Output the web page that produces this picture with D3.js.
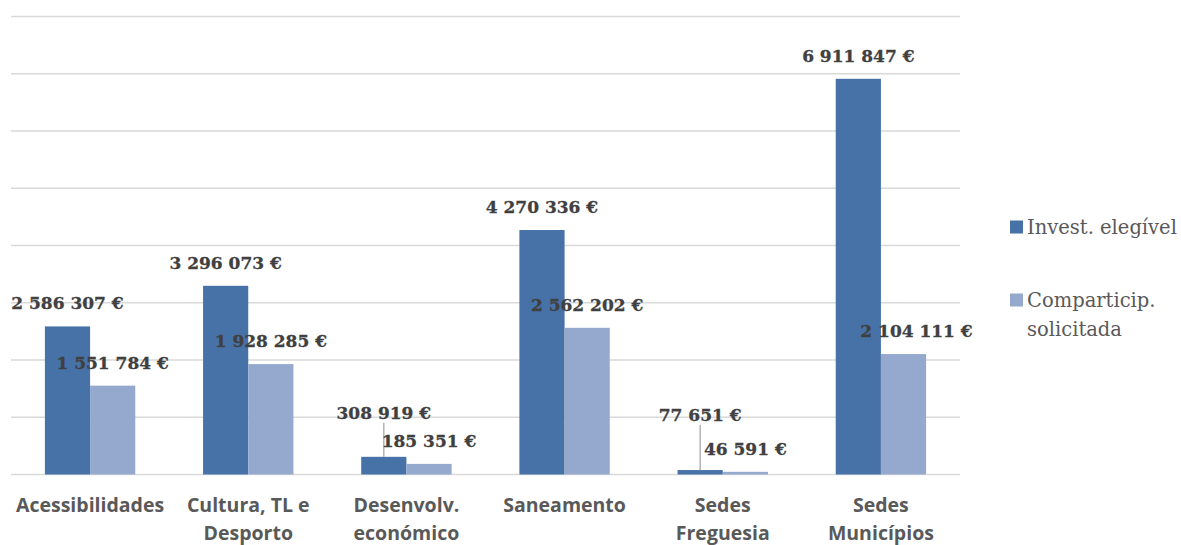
<!DOCTYPE html>
<html>
<head>
<meta charset="utf-8">
<script src="https://cdn.jsdelivr.net/npm/d3@7"></script>
<style>
body { margin: 0; background: #fff; }
</style>
</head>
<body>
<script>
// categorias e valores
var categories = [["Acessibilidades"], ["Cultura, TL e", "Desporto"], ["Desenvolv.", "económico"], ["Saneamento"], ["Sedes", "Freguesia"], ["Sedes", "Municípios"]]
var invest = [2586307, 3296073, 308919, 4270336, 77651, 6911847]
var compart = [1551784, 1928285, 185351, 2562202, 46591, 2104111]
var series_names = [["Invest. elegível"], ["Comparticip.", "solicitada"]]
var y_ticks = [0, 1000000, 2000000, 3000000, 4000000, 5000000, 6000000, 7000000, 8000000]

var w = 1181, h = 545
var margin = {left: 11, right: 221, top: 16.5, bottom: 70.5}
var colors = ["#4672a8", "#95a9cf"]

var svg = d3.select("body").append("svg")
.attr("width", w)
.attr("height", h)

// gap width 150% -> 2 barras + 1.5 barra de intervalo por categoria
var cat_w = (w - margin.right - margin.left) / categories.length
var bar_w = cat_w / 3.5

var y = d3.scaleLinear()
.domain([0, 8000000])
.range([h - margin.bottom, margin.top])

// grelha
svg.append("g")
.selectAll("line")
.data(y_ticks)
.enter().append("line")
.attr("x1", margin.left)
.attr("x2", w - margin.right)
.attr("y1", function(d) { return y(d) })
.attr("y2", function(d) { return y(d) })
.attr("stroke", "#d9d9d9")
.attr("stroke-width", 1.5)

var series = [invest, compart]
function bar_x(i, s) { return margin.left + i*cat_w + cat_w/2 - bar_w + s*bar_w }

series.forEach(function(vals, s) {
svg.append("g")
.selectAll("rect")
.data(vals)
.enter().append("rect")
.attr("x", function(d, i) { return bar_x(i, s) })
.attr("width", bar_w)
.attr("y", function(d) { return y(d) })
.attr("height", function(d) { return y(0) - y(d) })
.attr("fill", colors[s])
})

// deslocações manuais das etiquetas (como no Excel)
var label_shift = [
[[0,0],[0,0],[0,-21],[0,0],[0,-32],[0,0]],
[[0,0],[0,0],[0,0],[0,0],[0,0],[13,0]]
]

series.forEach(function(vals, s) {
vals.forEach(function(d, i) {
var cx = bar_x(i, s) + bar_w/2 + label_shift[s][i][0]
var cy = y(d) - 23 + label_shift[s][i][1]
if (label_shift[s][i][1] < -10) {
svg.append("line")
.attr("x1", cx).attr("x2", cx)
.attr("y1", cy + 10).attr("y2", y(d))
.attr("stroke", "#a6a6a6")
.attr("stroke-width", 1.3)
}
svg.append("text")
.attr("x", cx)
.attr("y", cy)
.attr("text-anchor", "middle")
.attr("dominant-baseline", "central")
.style("font-family", "DejaVu Serif")
.style("font-weight", "bold")
.style("font-size", "17px")
.style("fill", "#404040")
.style("stroke", "#404040")
.style("stroke-width", 0.3)
.text(d3.format(",")(d).replace(/,/g, " ") + " €")
})
})

// eixo das categorias
categories.forEach(function(lines, i) {
var t = svg.append("text")
.attr("x", margin.left + i*cat_w + cat_w/2)
.attr("y", 504)
.attr("text-anchor", "middle")
.attr("dominant-baseline", "central")
.style("font-family", "Open Sans")
.style("font-weight", "bold")
.style("font-size", "19.5px")
.style("fill", "#595959")
lines.forEach(function(l, k) {
t.append("tspan").attr("x", margin.left + i*cat_w + cat_w/2).attr("dy", k == 0 ? 0 : 28).text(l)
})
})

// legenda
var leg_y = [227, 300]
series_names.forEach(function(lines, s) {
svg.append("rect")
.attr("x", 1010)
.attr("y", leg_y[s] - 6.5)
.attr("width", 13)
.attr("height", 13)
.attr("fill", colors[s])
var t = svg.append("text")
.attr("x", 1027)
.attr("y", leg_y[s])
.attr("dominant-baseline", "central")
.style("font-family", "DejaVu Serif")
.style("font-size", "19.5px")
.style("fill", "#595959")
lines.forEach(function(l, k) {
t.append("tspan").attr("x", 1027).attr("dy", k == 0 ? 0 : 29).text(l)
})
})
</script>
</body>
</html>
